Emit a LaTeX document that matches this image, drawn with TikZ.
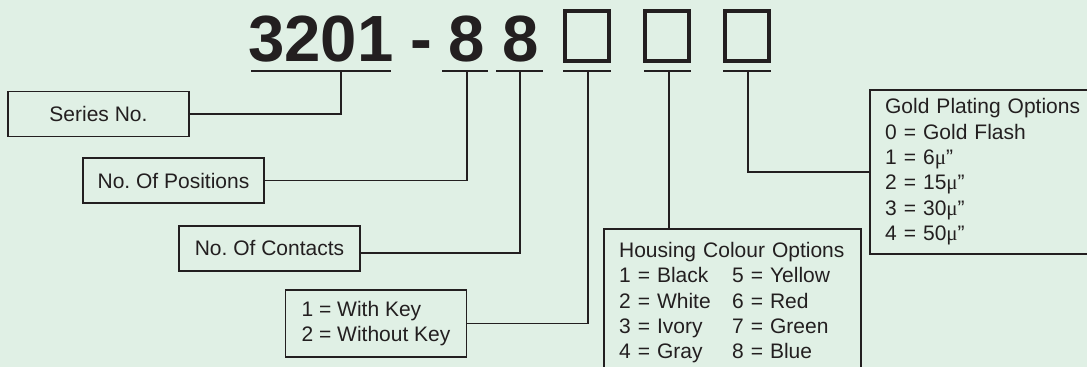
\documentclass[tikz,border=0pt]{standalone}
\usepackage{fontspec}
\setmainfont{Liberation Sans}
\newfontfamily\mufont{Liberation Serif}
\usepackage{xcolor}
\definecolor{palegreen}{HTML}{E0F0E5}
\definecolor{inkgray}{HTML}{231F20}
\newcommand{\micro}{{\mufont μ}”}
\frenchspacing

\begin{document}
\begin{tikzpicture}[x=0.75pt,y=-0.75pt,
    every node/.style={font=\fontsize{15.75}{19}\selectfont,text=inkgray},
    codepart/.style={font=\fontsize{49}{55}\selectfont\bfseries,inner sep=0pt,anchor=base},
    slot/.style={draw=inkgray,line width=3pt,minimum width=32.6pt,minimum height=37.5pt,inner sep=0pt},
    labelbox/.style={draw=inkgray,line width=1.4pt,minimum width=135.75pt,minimum height=33.75pt,inner sep=0pt,align=left},
    optbox/.style={draw=inkgray,line width=1.4pt,anchor=north west,align=left,inner xsep=11.4pt},
    wire/.style={draw=inkgray,line width=1.3pt}]
    \useasboundingbox (0,0) rectangle (1087,367);
    \fill[palegreen] (0,0) rectangle (1087,367);
    \clip (0,0) rectangle (1087,367);

    \node[codepart] (series-no) at (321,62) {3201};
    \node[codepart] (dash) at (421,62) {-};
    \node[codepart] (pos-no) at (466.5,62) {8};
    \node[codepart] (cont-no) at (520.5,62) {8};
    \foreach \x/\name in {587/slot1, 667/slot2, 747/slot3}
      \node[slot] (\name) at (\x,36.3) {};

    \foreach \a/\b/\c/\name in {
      251/391/341/u1, 442/488/467/u2, 496/543/520/u3,
      563/611/588/u4, 644/691/669/u5, 723/771/748/u6} {
      \draw[wire] (\a,71) -- (\b,71);
      \coordinate (\name) at (\c,71);
    }

    \node[labelbox] (series) at (98.5,114) {Series No.};
    \node[labelbox] (positions) at (173.5,180.5) {No. Of Positions};
    \node[labelbox] (contacts) at (269.5,248.5) {No. Of Contacts};
    \node[labelbox,minimum height=50.25pt] (keying) at (376,323.5) {1 = With Key\\2 = Without Key};
    \node[optbox,text width=170pt,inner ysep=10pt] (housing) at (603,228) {Housing Colour Options\\
      \makebox[84.75pt][l]{1 = Black}5 = Yellow\\
      \makebox[84.75pt][l]{2 = White}6 = Red\\
      \makebox[84.75pt][l]{3 = Ivory}7 = Green\\
      \makebox[84.75pt][l]{4 = Gray}8 = Blue};
    \node[optbox,text width=155pt,inner ysep=6.6pt] (plating) at (869,89) {Gold Plating Options\\
      0 = Gold Flash\\1 = 6\micro\\2 = 15\micro\\3 = 30\micro\\4 = 50\micro};

    \draw[wire] (u1) |- (series.east);
    \draw[wire] (u2) |- (positions.east);
    \draw[wire] (u3) |- ([yshift=-3.4pt]contacts.east);
    \draw[wire] (u4) |- (keying.east);
    \draw[wire] (u5) -- (u5 |- housing.north);
    \draw[wire] (u6) |- (plating.west);
  \end{tikzpicture}
\end{document}
